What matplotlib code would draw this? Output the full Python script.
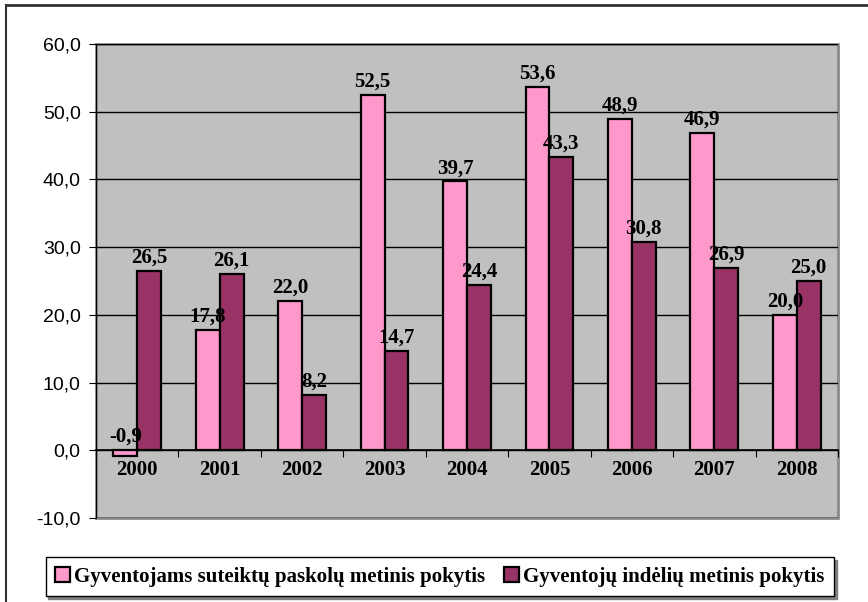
import matplotlib
matplotlib.use("Agg")
import matplotlib.pyplot as plt
import numpy as np
from matplotlib.patches import Rectangle
from matplotlib.lines import Line2D
from matplotlib.font_manager import FontProperties

years = ["2000", "2001", "2002", "2003", "2004", "2005", "2006", "2007", "2008"]
loans = [-0.9, 17.8, 22.0, 52.5, 39.7, 53.6, 48.9, 46.9, 20.0]
deposits = [26.5, 26.1, 8.2, 14.7, 24.4, 43.3, 30.8, 26.9, 25.0]
loans_name = "Gyventojams suteiktų paskolų metinis pokytis"
deposits_name = "Gyventojų indėlių metinis pokytis"

plt.rcParams["font.family"] = ["Liberation Serif", "DejaVu Serif"]
sans = "Liberation Sans"

fig = plt.figure(figsize=(8.68, 6.02), dpi=100)
ax = fig.add_axes([0.1106, 0.1395, 0.8548, 0.7874])
ax.set_facecolor("#c0c0c0")

x = np.arange(len(years))
w = 0.29
b1 = ax.bar(x - w / 2, loans, w, color="#ff99cc", edgecolor="black", linewidth=1.6,
            label=loans_name, zorder=3)
b2 = ax.bar(x + w / 2, deposits, w, color="#993366", edgecolor="black", linewidth=1.6,
            label=deposits_name, zorder=3)

for xs, vals in ((x - w / 2, loans), (x + w / 2, deposits)):
    for xi, v in zip(xs, vals):
        ax.annotate(f"{v:.1f}".replace(".", ","), (xi, max(v, 0)), xytext=(0, 6),
                    textcoords="offset points", ha="center", va="baseline",
                    fontsize=15, fontweight="bold", zorder=4)

ax.set_xlim(-0.5, len(years) - 0.5)
ax.set_ylim(-10, 60)
ax.set_yticks(np.arange(-10, 61, 10))
ax.set_yticklabels([f"{t:.1f}".replace(".", ",") for t in np.arange(-10, 61, 10)],
                   family=sans, fontsize=14)
ax.yaxis.grid(True, color="black", linewidth=1)
ax.set_axisbelow(True)

# category axis at zero, ticks between groups
ax.spines["bottom"].set_position(("data", 0))
ax.spines["bottom"].set_linewidth(1.2)
ax.spines["top"].set_visible(False)
ax.spines["right"].set_visible(False)
ax.spines["left"].set_color("black")
ax.set_xticks(np.arange(-0.5, len(years), 1))
ax.set_xticklabels([])
ax.tick_params(axis="x", direction="out", length=5, color="black")
ax.tick_params(axis="y", direction="out", length=5, pad=6)
for xi, yr in zip(x, years):
    ax.text(xi, -1.4, yr, ha="center", va="top", fontsize=15, fontweight="bold")
ax.add_patch(Rectangle((0, 0), 1, 1, transform=ax.transAxes, fill=False,
                       edgecolor="#8a8a8a", linewidth=2, zorder=0, clip_on=False))

legend_font = FontProperties(family="Liberation Serif", weight="bold", size=15)
leg = fig.legend(handles=[b1, b2], loc="center", bbox_to_anchor=(0.5067, 0.0423),
                 ncol=2, frameon=True, fancybox=False, edgecolor="black",
                 prop=legend_font, handlelength=0.72, handleheight=0.72,
                 handletextpad=0.2, columnspacing=0.9, borderpad=0.45,
                 borderaxespad=0, shadow={"color": "#808080", "alpha": 1, "ox": 2, "oy": -2})
leg.get_frame().set_linewidth(1)

# chart area border (top and left only visible)
fig.add_artist(Line2D([0.0065, 1.0], [0.9925, 0.9925], color="#333333", linewidth=2,
                      transform=fig.transFigure))
fig.add_artist(Line2D([0.0065, 0.0065], [0.0, 0.9925], color="#333333", linewidth=1.5,
                      transform=fig.transFigure))

fig.savefig("out.png", dpi=100)
